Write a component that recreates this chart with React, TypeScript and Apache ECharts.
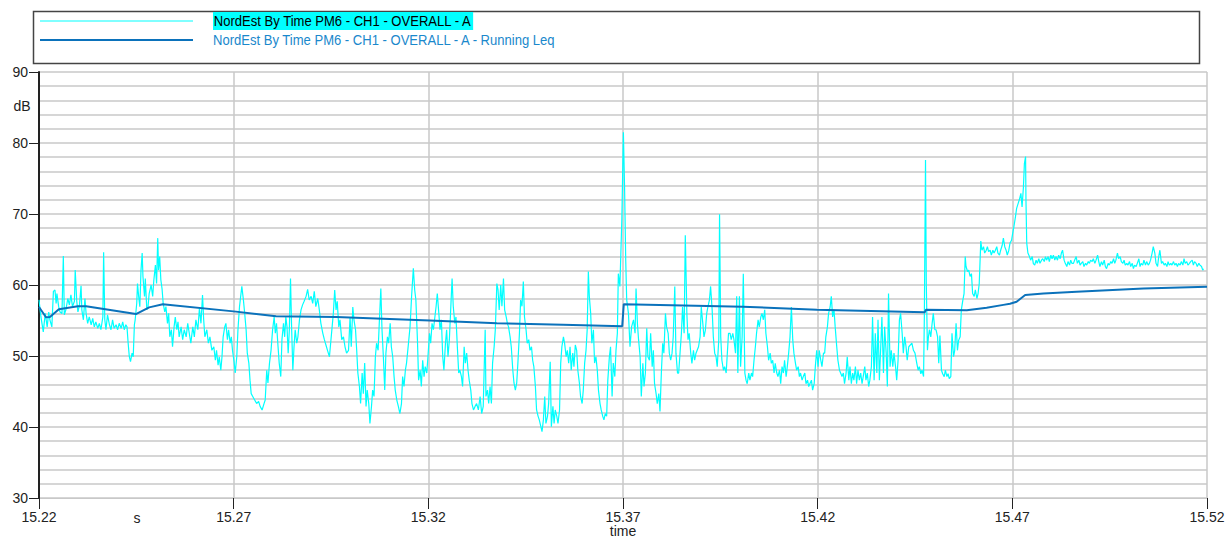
import React, { useEffect, useRef } from "react";
import * as echarts from "echarts";

// time axis: offset in thousandths after 15.22 (15.22 + t/1000)
const timeTicks = [0, 50, 100, 150, 200, 250, 300];
const timeStart = 15.22;
const axisTitles = { x: "time", y: "dB", unit: "s" };

const seriesNames = [
  "NordEst By Time PM6 - CH1 - OVERALL - A",
  "NordEst By Time PM6 - CH1 - OVERALL - A - Running Leq",
];

// Running Leq (dB)
const leqTime = [0, 1.8, 2.8, 5.1, 10.0, 12.1, 24.9, 28.3, 31.8, 50.6, 60.9, 76.3, 100.4, 117.6, 134.6, 149.8, 150.2, 180.8, 199.8, 227.5, 227.8, 238.3, 243.4, 247.7, 249.4, 251.1, 253.3, 258.0, 266.5, 283.7, 300];
const leqDb = [56.9, 55.45, 55.5, 56.6, 57.0, 57.0, 55.9, 56.85, 57.3, 56.25, 55.6, 55.5, 55.0, 54.6, 54.4, 54.2, 57.3, 56.95, 56.5, 56.15, 56.5, 56.45, 56.8, 57.2, 57.35, 57.65, 58.6, 58.8, 59.05, 59.5, 59.75];

// Raw level [time offset, dB], four stretches
const rawA = [
[0,57.9],[0.5,55.5],[1.1,53.4],[1.6,56.0],[2.1,54.1],[2.5,56.2],[2.8,55.1],[3.3,54.1],[3.7,59.1],[4.1,59.3],[4.4,57.4],[4.6,58.8],[5.05,56.95],[5.4,56.2],[5.9,56.0],[6.25,64.1],[6.5,55.8],[6.9,56.5],[7.4,58.1],[7.8,57.2],[8.2,58.6],[8.6,56.95],[9.1,57.7],[9.3,62.1],[9.7,57.7],[10.0,56.2],[10.4,57.2],[10.8,59.9],[11.0,56.5],[11.4,55.1],[11.8,58.1],[12.1,56.0],[12.5,54.6],[12.9,55.5],[13.4,54.4],[13.8,55.3],[14.2,54.1],[14.6,54.8],[15.1,53.9],[15.5,54.6],[15.9,53.7],[16.4,55.5],[16.6,64.6],[16.9,55.1],[17.2,53.7],[17.6,55.8],[18.1,54.4],[18.5,53.7],[18.9,55.1],[19.3,53.9],[19.8,54.4],[20.2,53.7],[20.6,54.6],[21.1,53.9],[21.5,54.8],[21.9,53.7],[22.3,54.4],[22.6,54.1],[22.9,51.8],[23.2,49.9],[23.5,49.2],[23.9,50.4],[24.2,49.9],[24.5,54.4],[24.7,55.1],[25.1,57.4],[25.3,60.2],[25.6,58.4],[25.9,56.95],[26.2,62.1],[26.5,64.5],[26.7,61.2],[27.1,58.4],[27.3,60.9],[27.7,56.5],[28.0,56.95],[28.3,58.8],[28.8,60.0],[29.2,58.4],[29.5,60.7],[29.9,62.8],[30.2,60.2],[30.5,66.6],[30.7,62.1],[31.0,64.0],[31.3,60.7],[31.6,59.5],[31.9,57.4],[32.3,56.2],[32.6,56.95],[33.0,54.6],[33.3,56.0],[33.6,52.7],[34.0,53.7],[34.3,51.3],[34.7,54.1],[35.0,55.5],[35.4,53.7],[35.7,54.8],[36.0,52.7],[36.5,54.1],[36.9,52.3],[37.3,53.7],[37.8,52.7],[38.2,54.6],[38.6,53.2],[39.0,51.8],[39.5,54.1],[39.9,52.7],[40.3,55.1],[40.8,53.7],[41.2,56.7],[41.6,54.6],[42.0,58.6],[42.3,55.1],[42.6,52.7],[43.1,53.7],[43.5,51.8],[43.9,52.7],[44.4,50.8],[44.9,51.3],[45.3,49.4],[45.6,50.8],[46.0,48.7],[46.3,49.9],[46.7,48.0],[47.0,49.9],[47.3,52.7],[47.7,54.1],[48.0,54.6],[48.4,52.3],[48.7,53.7],[49.1,51.8],[49.4,52.7],[49.7,50.8],[50.1,49.2],[50.4,47.6],[50.8,49.9],[51.1,53.7],[51.5,56.95],[51.8,58.4],[52.1,59.8],[52.5,57.9],[52.8,56.2],[53.2,53.7],[53.5,50.4],[53.9,49.0],[54.2,46.6],[54.5,44.7],[54.9,44.3],[55.4,43.8],[55.9,43.3],[56.4,43.6],[56.8,42.9],[57.3,42.4],[57.8,43.3],[58.1,43.8],[58.5,48.0],[58.8,46.2],[59.2,49.0],[59.6,50.8],[60.0,53.7],[60.4,55.5],[60.7,53.2],[61.0,54.6],[61.4,51.3],[61.7,49.0],[62.1,47.1],[62.4,52.3],[62.8,54.6],[63.1,52.7],[63.4,55.5],[63.7,54.1],[64.0,50.4],[64.3,53.7],[64.6,60.9],[64.9,53.7],[65.2,48.0],[65.5,51.3],[65.8,53.7],[66.2,51.8],[66.5,52.7],[66.9,55.1],[67.3,56.5],[67.7,57.2],[68.1,57.7],[68.6,58.4],[69.0,59.4],[69.4,57.9],[69.9,58.4],[70.3,57.4],[70.7,59.1],[71.1,56.95],[71.6,58.1],[72.0,56.5],[72.4,54.6],[72.9,53.2],[73.3,52.3],[73.7,51.55],[74.1,50.8],[74.6,49.9]
];

const rawB = [
[75.6,56.0],[75.95,59.3],[76.3,56.5],[76.6,57.7],[77.0,54.1],[77.3,55.1],[77.75,52.3],[78.2,52.7],[78.6,51.3],[79.0,50.4],[79.5,50.8],[79.9,55.5],[80.2,51.3],[80.6,56.9],[80.9,55.1],[81.3,53.7],[81.6,50.8],[81.9,47.6],[82.3,45.7],[82.6,43.3],[83.0,47.6],[83.3,44.7],[83.65,49.0],[84.0,42.9],[84.3,45.2],[84.7,43.3],[85.0,40.5],[85.4,42.9],[85.7,45.2],[86.05,44.3],[86.4,49.9],[86.7,51.8],[87.1,50.8],[87.4,54.6],[87.8,59.5],[88.1,53.7],[88.45,49.9],[88.8,45.2],[89.1,50.4],[89.5,52.7],[89.8,51.8],[90.2,54.6],[90.5,51.3],[90.85,49.9],[91.2,47.1],[91.5,45.2],[91.9,43.8],[92.3,42.9],[92.7,41.9],[93.1,43.3],[93.4,47.1],[93.75,45.7],[94.1,48.0],[94.4,49.0],[94.9,51.8],[95.3,54.1],[95.7,58.4],[96.15,62.35],[96.5,59.3],[96.8,57.9],[97.2,52.3],[97.5,46.6],[97.9,48.0],[98.2,45.7],[98.55,49.4],[98.9,47.1],[99.2,48.5],[99.6,47.6],[99.9,49.9],[100.3,53.2],[100.6,51.8],[100.95,54.6],[101.3,53.7],[101.6,55.1],[102.0,57.0],[102.3,58.8],[102.7,56.0],[103.0,53.7],[103.35,55.1],[103.7,49.9],[104.0,48.0],[104.4,51.8],[104.7,53.7],[105.05,49.9],[105.4,52.3],[105.7,56.0],[106.1,60.9],[106.4,57.0],[106.8,54.6],[107.1,55.5],[107.45,51.3],[107.8,47.6],[108.1,48.0],[108.5,47.1],[108.8,45.7],[109.2,51.3],[109.5,49.0],[109.85,50.4],[110.2,48.0],[110.5,46.6],[110.9,45.2],[111.2,43.3],[111.6,42.4],[112.0,42.9],[112.4,43.3],[112.85,42.4],[113.3,44.3],[113.7,41.9],[114.1,42.9],[114.6,53.7],[114.8,44.3],[115.2,45.2],[115.5,43.3],[115.85,45.7],[116.2,43.3],[116.5,49.0],[116.9,51.3],[117.2,53.7],[117.6,60.2],[117.9,59.3],[118.2,56.5],[118.6,60.0],[118.9,57.0],[119.3,60.9],[119.6,56.5],[120.0,55.5],[120.3,54.6],[120.6,54.1],[121.0,52.7],[121.3,51.3],[121.7,48.0],[122.0,46.2],[122.35,45.2],[122.7,46.2],[123.0,49.0],[123.4,53.2],[123.7,57.9],[124.05,57.0],[124.4,60.5],[124.7,55.5],[125.1,53.7],[125.4,51.8],[125.8,52.3],[126.1,50.8],[126.5,51.3],[126.8,49.4],[127.1,48.5],[127.5,45.7],[127.8,42.4],[128.2,41.5],[128.5,41.0],[128.9,40.05],[129.2,39.35],[129.55,41.0],[129.9,44.3],[130.2,40.5],[130.6,41.5],[130.9,43.3],[131.3,49.2],[131.6,40.05],[132.0,42.9],[132.3,40.5],[132.6,42.4],[133.0,41.5],[133.3,40.5],[133.7,42.4],[134.0,49.0],[134.3,51.3],[134.7,52.7],[135.0,51.8],[135.4,49.9],[135.7,50.8],[136.05,49.0],[136.4,51.3],[136.7,48.0],[137.1,50.4],[137.4,48.5],[137.75,51.55],[138.1,50.8],[138.4,48.0],[138.8,46.2],[139.1,44.3],[139.5,43.3],[139.8,45.2],[140.15,49.0],[140.5,50.8],[140.8,53.7],[141.1,61.9],[141.35,58.4],[141.7,56.0],[142.0,51.8],[142.4,53.7],[142.7,49.0],[143.05,49.9],[143.4,48.0],[143.7,45.2],[144.1,43.3],[144.4,42.4],[144.8,41.5],[145.1,41.0],[145.45,41.9],[145.8,41.5],[146.1,46.6],[146.5,49.9],[146.8,51.3],[147.2,44.3],[147.5,49.0],[147.9,47.1],[148.2,50.8],[148.55,53.2]
];

const rawC = [
[148.8,61.6],[149.2,59.8],[149.7,69.2],[150.1,81.5],[150.4,73.85],[150.7,63.5],[150.95,57.9],[151.4,56.0],[151.8,51.3],[152.2,54.1],[152.7,55.1],[153.1,53.2],[153.35,59.5],[153.7,54.6],[154.0,52.3],[154.4,49.9],[154.7,44.3],[155.1,48.97],[155.4,45.7],[155.75,47.6],[156.1,53.9],[156.4,49.9],[156.8,49.4],[157.1,53.2],[157.5,48.5],[157.8,50.8],[158.1,46.1],[158.5,44.7],[158.8,43.3],[159.2,44.7],[159.5,42.2],[159.85,47.6],[160.2,51.8],[160.5,50.4],[160.9,56.0],[161.2,54.1],[161.6,53.2],[161.9,50.4],[162.25,49.4],[162.6,50.4],[162.9,52.7],[163.3,59.8],[163.6,50.4],[164.0,47.6],[164.3,47.6],[164.65,50.4],[165.0,53.2],[165.3,56.9],[165.7,53.2],[166.0,67.0],[166.4,56.0],[166.7,52.3],[167.0,53.2],[167.4,50.4],[167.7,48.97],[168.1,50.8],[168.4,49.4],[168.75,50.4],[169.4,51.3],[169.8,52.7],[170.1,56.9],[170.5,54.6],[170.8,52.7],[171.15,53.6],[171.5,56.0],[171.8,56.9],[172.2,57.9],[172.5,59.8],[172.9,56.5],[173.2,52.7],[173.55,50.4],[173.9,49.9],[174.2,48.5],[174.6,52.3],[174.8,69.95],[175.1,52.7],[175.4,49.4],[175.8,48.0],[176.1,48.5],[176.5,47.6],[176.8,50.4],[177.1,53.2],[177.5,53.2],[177.8,52.3],[178.2,53.2],[178.5,52.3],[178.9,50.4],[179.2,58.4],[179.5,47.6],[179.9,58.4],[180.2,48.5],[180.6,52.7],[180.9,61.6],[181.3,47.6],[181.6,46.6],[181.9,46.1],[182.3,47.6],[182.6,46.6],[183.0,47.6],[183.3,47.1],[183.65,49.4],[184.0,51.3],[184.3,53.2],[184.7,55.1],[185.0,54.1],[185.4,55.5],[185.7,56.0],[186.05,55.1],[186.4,56.5],[186.7,53.2],[187.1,51.3],[187.4,49.4],[187.8,50.4],[188.1,48.97],[188.45,49.4],[188.8,47.6],[189.1,48.97],[189.5,47.6],[189.8,47.1],[190.2,48.0],[190.5,46.1],[190.85,48.5],[191.2,47.6],[191.5,49.4],[191.9,47.1],[192.2,48.5],[192.55,50.4],[192.9,52.7],[193.25,56.9],[193.6,52.3],[193.9,50.4],[194.3,48.97],[194.6,48.0],[195.0,48.5],[195.3,47.1],[195.6,47.6],[196.0,46.6],[196.3,47.1],[196.7,47.6],[197.0,46.1],[197.4,46.6],[197.7,45.7],[198.0,46.1],[198.4,46.6],[198.7,45.2],[199.1,46.1],[199.4,48.5],[199.75,50.8],[200.1,48.5],[200.4,50.8],[200.8,49.4],[201.1,48.5],[201.5,50.4],[201.8,50.4],[202.1,52.7],[202.5,54.1],[202.8,56.0],[203.2,56.9],[203.5,58.4],[203.85,55.5],[204.2,56.5],[204.5,54.1],[204.9,51.3],[205.2,49.4],[205.6,48.0],[205.9,47.6],[206.25,47.1],[206.6,47.6],[206.9,46.1],[207.3,47.6],[207.6,49.9],[208.0,46.6],[208.3,48.5],[208.65,46.1],[209.0,47.6],[209.3,46.6],[209.7,48.5],[210.0,46.1],[210.35,48.0],[210.7,46.6],[211.05,47.6],[211.4,46.1],[211.7,47.1],[212.1,48.5],[212.4,46.6],[212.75,47.6],[213.1,45.7],[213.4,46.6],[213.8,48.5],[214.1,55.5],[214.5,46.6],[214.8,53.2],[215.2,47.6],[215.5,55.1],[215.85,46.6],[216.2,51.3],[216.5,55.5],[216.9,47.6],[217.2,54.1],[217.6,50.4],[217.9,45.7],[218.2,58.8],[218.6,48.5],[218.9,50.8],[219.3,48.5],[219.6,50.4],[220.0,48.5],[220.3,46.6],[220.65,49.4],[221.0,55.1],[221.3,56.0],[221.7,53.2],[222.0,50.4],[222.35,52.7],[222.7,51.3],[223.0,49.4],[223.4,51.3]
];

const rawD = [
[224.2,51.8],[224.6,50.8],[225.0,50.4],[225.45,49.0],[225.8,48.0],[226.1,48.5],[226.5,47.5],[226.8,48.0],[227.2,47.1],[227.4,55.5],[227.7,77.6],[227.9,60.2],[228.2,50.8],[228.45,52.7],[228.7,53.7],[229.05,52.7],[229.4,54.6],[229.7,56.0],[230.1,53.7],[230.4,53.7],[230.8,52.7],[231.1,49.0],[231.4,52.9],[231.8,48.0],[232.1,47.5],[232.5,47.1],[232.8,48.0],[233.2,47.1],[233.5,47.5],[233.8,46.8],[234.2,47.1],[234.5,53.2],[234.9,49.9],[235.2,50.8],[235.55,54.6],[235.9,50.8],[236.2,52.2],[236.6,52.7],[236.9,56.5],[237.3,57.9],[237.6,58.8],[237.9,64.0],[238.1,62.6],[238.5,61.9],[238.8,62.1],[239.15,61.2],[239.5,61.6],[239.8,58.8],[240.2,58.4],[240.5,59.3],[240.9,58.1],[241.2,58.8],[241.5,60.2],[241.9,66.2],[242.2,64.9],[242.6,65.4],[242.9,64.5],[243.3,64.9],[243.6,65.4],[243.9,64.7],[244.3,64.9],[244.6,64.2],[245.0,64.9],[245.3,64.5],[245.65,64.9],[246.0,65.4],[246.3,64.5],[246.7,64.2],[247.0,64.9],[247.4,65.6],[247.7,66.6],[248.05,65.4],[248.4,64.9],[248.7,64.2],[249.1,64.9],[249.4,65.9],[249.8,66.3],[250.1,67.3],[250.4,68.2],[250.8,69.6],[251.1,70.8],[251.5,71.5],[251.8,72.0],[252.2,72.9],[252.5,71.0],[252.85,73.8],[253.1,77.1],[253.4,78.1],[253.5,72.0],[253.7,65.9],[254.0,64.5],[254.4,64.0],[254.7,63.5],[255.1,64.0],[255.4,63.0],[255.75,62.8],[256.1,63.5],[256.4,63.05],[256.8,63.7],[257.1,63.05],[257.5,63.5],[257.8,63.7],[258.2,63.3],[258.5,64.0],[258.8,63.5],[259.2,64.0],[259.5,63.3],[259.9,64.2],[260.2,63.7],[260.55,64.2],[260.9,63.5],[261.2,64.0],[261.6,63.5],[261.9,64.2],[262.3,63.7],[262.6,64.5],[262.9,64.9],[263.3,63.5],[263.6,63.05],[264.0,62.6],[264.3,63.3],[264.7,62.8],[265.0,63.5],[265.3,63.05],[265.7,63.05],[266.0,63.5],[266.4,64.0],[266.7,63.05],[267.1,63.5],[267.4,62.8],[267.7,63.05],[268.1,63.3],[268.4,62.6],[268.8,63.05],[269.1,62.8],[269.5,63.3],[269.8,63.05],[270.1,63.5],[270.5,63.3],[270.8,63.7],[271.2,63.05],[271.5,63.5],[271.9,64.2],[272.2,63.3],[272.5,62.6],[272.9,63.3],[273.2,62.8],[273.6,63.5],[273.9,62.6],[274.2,62.3],[274.6,63.05],[274.9,62.8],[275.3,63.3],[275.6,63.05],[276.0,63.7],[276.3,63.05],[276.6,63.5],[277.0,64.5],[277.3,63.7],[277.7,64.0],[278.0,63.3],[278.4,63.05],[278.7,63.5],[279.0,62.8],[279.4,63.05],[279.7,62.8],[280.1,63.3],[280.4,62.6],[280.8,63.05],[281.1,62.3],[281.4,62.8],[281.8,62.6],[282.1,63.05],[282.5,63.7],[282.8,62.6],[283.1,63.05],[283.5,62.8],[283.8,63.5],[284.2,62.8],[284.5,63.3],[284.9,62.8],[285.2,63.05],[285.5,63.5],[285.9,64.5],[286.2,65.4],[286.6,64.5],[286.9,63.05],[287.3,62.6],[287.6,64.0],[287.9,64.9],[288.3,63.05],[288.6,63.3],[289.0,62.8],[289.3,63.05],[289.7,62.6],[290.0,63.3],[290.3,62.8],[290.7,63.05],[291.0,62.8],[291.4,63.3],[291.7,62.8],[292.05,63.05],[292.4,62.6],[292.7,63.05],[293.1,62.8],[293.4,63.3],[293.8,62.8],[294.1,63.7],[294.4,63.05],[294.8,63.3],[295.1,62.8],[295.5,63.05],[295.8,63.3],[296.2,63.5],[296.5,62.8],[296.8,63.3],[297.2,63.05],[297.5,62.6],[297.9,63.05],[298.2,62.8],[298.6,62.6],[298.9,62.1],[299.1,62.3]
];

const dbMin = 30;
const dbMax = 90;
const dbStep = 10;

const FONT = '"Liberation Sans", Arial, sans-serif';

export default function App() {
  const ref = useRef<HTMLDivElement>(null);
  useEffect(() => {
    if (!ref.current) return;
    const chart = echarts.init(ref.current, undefined, { renderer: "svg" });
    const raw = [...rawA, ...rawB, ...rawC, ...rawD];
    const leq = leqTime.map((t, i) => [t, leqDb[i]]);
    const fmtTime = (v: number) => (timeStart + v / 1000).toFixed(2);
    chart.setOption({
      animation: false,
      backgroundColor: "#fff",
      grid: { left: 39, top: 72, width: 1168, height: 426, containLabel: false, outerBoundsMode: "none" },
      xAxis: {
        type: "value",
        min: timeTicks[0],
        max: timeTicks[timeTicks.length - 1],
        interval: timeTicks[1] - timeTicks[0],
        axisLine: { show: true, onZero: false, lineStyle: { color: "#c8c8c8", width: 1 } },
        axisTick: { show: true, length: 11, lineStyle: { color: "#222", width: 1 } },
        axisLabel: { formatter: fmtTime, fontFamily: FONT, fontSize: 14, color: "#222", margin: 12 },
        splitLine: { show: true, lineStyle: { color: "#c8c8c8", width: 1.5 } },
      },
      yAxis: {
        type: "value",
        min: dbMin,
        max: dbMax,
        interval: dbStep,
        axisLine: { show: true, lineStyle: { color: "#222", width: 2 } },
        axisTick: { show: true, length: 10, lineStyle: { color: "#222", width: 1 } },
        axisLabel: { fontFamily: FONT, fontSize: 14, color: "#222", margin: 11 },
        splitLine: { show: true, lineStyle: { color: "#c8c8c8", width: 1.5 } },
        minorTick: { show: false, splitNumber: 5 },
        minorSplitLine: { show: true, lineStyle: { color: "#c8c8c8", width: 1.5 } },
      },
      series: [
        {
          name: seriesNames[0],
          type: "line",
          data: raw,
          showSymbol: false,
          symbol: "none",
          lineStyle: { color: "#00ffff", width: 1.2 },
          z: 2,
        },
        {
          name: seriesNames[1],
          type: "line",
          data: leq,
          showSymbol: false,
          symbol: "none",
          lineStyle: { color: "#0b72bb", width: 2 },
          z: 3,
        },
      ],
      graphic: [
        { type: "rect", shape: { x: 33.5, y: 11.5, width: 1166, height: 52 }, style: { fill: "none", stroke: "#444", lineWidth: 1.5 } },
        { type: "line", shape: { x1: 40, y1: 21, x2: 193, y2: 21 }, style: { stroke: "#00ffff", lineWidth: 1 } },
        { type: "text", x: 213, y: 21, scaleX: 0.87, style: { text: seriesNames[0], fill: "#000", backgroundColor: "#00ffff", padding: [2, 1, 1, 1], font: `15px ${FONT}`, verticalAlign: "middle" } },
        { type: "line", shape: { x1: 40, y1: 40, x2: 193, y2: 40 }, style: { stroke: "#0b72bb", lineWidth: 2 } },
        { type: "text", x: 213, y: 40, scaleX: 0.87, style: { text: seriesNames[1], fill: "#1a88cc", font: `15px ${FONT}`, verticalAlign: "middle" } },
        { type: "text", x: 22, y: 106, style: { text: axisTitles.y, fill: "#222", font: `14px ${FONT}`, align: "center", verticalAlign: "middle" } },
        { type: "text", x: 137, y: 518, style: { text: axisTitles.unit, fill: "#222", font: `14px ${FONT}`, align: "center", verticalAlign: "middle" } },
        { type: "text", x: 623, y: 531, style: { text: axisTitles.x, fill: "#222", font: `14px ${FONT}`, align: "center", verticalAlign: "middle" } },
      ],
    });
    return () => chart.dispose();
  }, []);
  return <div ref={ref} style={{ position: "absolute", left: 0, top: 0, width: 1231, height: 542 }} />;
}
